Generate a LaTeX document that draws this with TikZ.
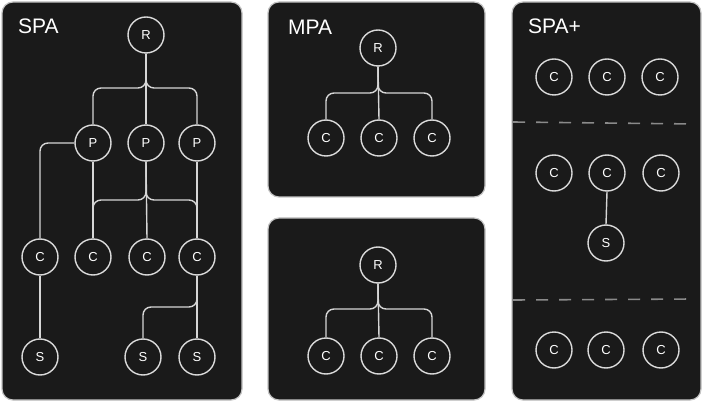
\documentclass[tikz,border=0pt]{standalone}
\usepackage{fontspec}
\setmainfont{Liberation Sans}
\begin{document}
\begin{tikzpicture}[x=1pt,y=-1pt,
  panel/.style={fill=panelbg,draw=panelline,line width=1.2pt,rounded corners=11pt},
  circ/.style={circle,draw=circline,fill=panelbg,line width=1.4pt,minimum size=36pt,inner sep=0pt,text=white,font=\fontsize{13}{13}\selectfont},
  conn/.style={draw=connline,line width=1.4pt,rounded corners=8pt},
  sep/.style={draw=sepline,line width=1.6pt,dash pattern=on 12pt off 11pt},
  title/.style={text=white,anchor=west,inner sep=0pt,font=\fontsize{21}{21}\selectfont}]
\definecolor{panelbg}{HTML}{1A1A1A}
\definecolor{panelline}{HTML}{C4C4C4}
\definecolor{circline}{HTML}{DADADA}
\definecolor{connline}{HTML}{D6D6D6}
\definecolor{sepline}{HTML}{8A8A8A}
\useasboundingbox (0,0) rectangle (706,403);
\fill[white] (0,0) rectangle (706,403);
% panels
\path[panel] (2,2) rectangle (242,400);
\path[panel] (268,2) rectangle (485,197);
\path[panel] (268,218) rectangle (485,400);
\path[panel] (512,2) rectangle (701,400);
% titles
\node[title] (tspa) at (18,26) {SPA};
\node[title] (tmpa) at (288,27) {MPA};
\node[title] (tspap) at (528,26) {SPA+};
% ---------- SPA ----------
\node[circ] (R) at (146,35) {R};
\node[circ] (P1) at (93,143) {P};
\node[circ] (P2) at (146,143) {P};
\node[circ] (P3) at (197,143) {P};
\node[circ] (C1) at (40,257) {C};
\node[circ] (C2) at (93,257) {C};
\node[circ] (C3) at (147,257) {C};
\node[circ] (C4) at (197,257) {C};
\node[circ] (S1) at (40,357) {S};
\node[circ] (S2) at (143,357) {S};
\node[circ] (S3) at (197,357) {S};
\coordinate (fR) at (146,88);
\coordinate (fP) at (146,200);
\coordinate (fC) at (197,307);
\draw[conn] (R.south) -- (fR) -| (P1.north);
\draw[conn] (R.south) -- (fR) -| (P3.north);
\draw[conn] (R.south) -- (P2.north);
\draw[conn] (P1.west) -| (C1.north);
\draw[conn] (P1.south) -- (C2.north);
\draw[conn] (P2.south) -- (fP) -| (C2.north);
\draw[conn] (P2.south) -- (fP) -| (C4.north);
\draw[conn] (P2.south) -- (C3.north);
\draw[conn] (P3.south) -- (C4.north);
\draw[conn] (C1.south) -- (S1.north);
\draw[conn] (C4.south) -- (S3.north);
\draw[conn] (C4.south) -- (fC) -| (S2.north);
% ---------- MPA ----------
\node[circ] (mR) at (378,48) {R};
\node[circ] (mC1) at (326,138) {C};
\node[circ] (mC2) at (379,138) {C};
\node[circ] (mC3) at (432,138) {C};
\coordinate (mf) at (378,93);
\draw[conn] (mR.south) -- (mf) -| (mC1.north);
\draw[conn] (mR.south) -- (mf) -| (mC3.north);
\draw[conn] (mR.south) -- (mC2.north);
% ---------- second MPA ----------
\node[circ] (nR) at (378,265) {R};
\node[circ] (nC1) at (326,356) {C};
\node[circ] (nC2) at (379,356) {C};
\node[circ] (nC3) at (432,356) {C};
\coordinate (nf) at (378,309);
\draw[conn] (nR.south) -- (nf) -| (nC1.north);
\draw[conn] (nR.south) -- (nf) -| (nC3.north);
\draw[conn] (nR.south) -- (nC2.north);
% ---------- SPA+ ----------
\node[circ] (a1) at (554,77) {C};
\node[circ] (a2) at (607,77) {C};
\node[circ] (a3) at (660,77) {C};
\node[circ] (b1) at (554,173) {C};
\node[circ] (b2) at (607,173) {C};
\node[circ] (b3) at (661,173) {C};
\node[circ] (bs) at (606,243) {S};
\node[circ] (c1) at (554,350) {C};
\node[circ] (c2) at (606,350) {C};
\node[circ] (c3) at (661,350) {C};
\draw[conn] (b2.south) -- (bs.north);
\coordinate (d1a) at (513,122);
\coordinate (d1b) at (694,124);
\coordinate (d2a) at (513,300);
\coordinate (d2b) at (694,299);
\draw[sep] (d1a) -- (d1b);
\draw[sep] (d2a) -- (d2b);
\end{tikzpicture}
\end{document}
